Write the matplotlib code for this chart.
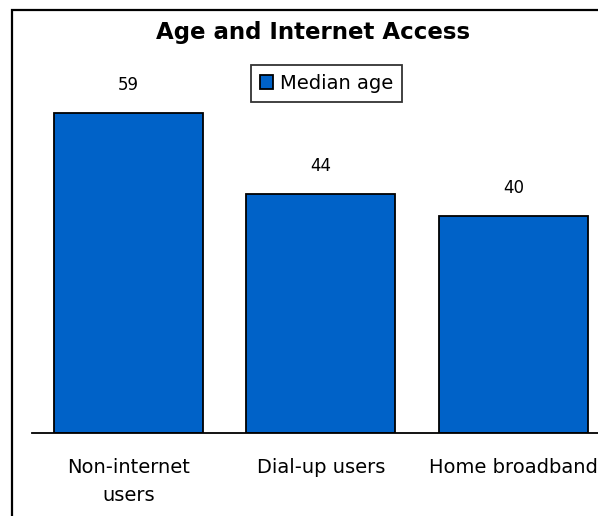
import matplotlib
matplotlib.use('Agg')
import matplotlib.pyplot as plt
from matplotlib.patches import Rectangle

plt.rcParams['font.family'] = ['DejaVu Sans']

# data
categories = ['Non-internet\nusers', 'Dial-up users', 'Home broadband']
median_age = [59, 44, 40]
series_name = 'Median age'
chart_title = 'Age and Internet Access'

BLUE = '#0062c8'

W, H = 598, 516
fig = plt.figure(figsize=(W / 100, H / 100), dpi=100)

# axes run off the right edge, like a cropped chart
unit_px = 192.5
ax = fig.add_axes([32 / W, (H - 433) / H, 3 * unit_px / W, 70 * 5.43 / H])
x = list(range(len(categories)))
bars = ax.bar(x, median_age, width=0.774, color=BLUE, edgecolor='black',
              linewidth=1.3, label=series_name, zorder=2)
ax.set_xlim(-0.5, 2.5)
ax.set_ylim(0, 70)

for b, v in zip(bars, median_age):
    ax.annotate(str(v), (b.get_x() + b.get_width() / 2, v),
                xytext=(0, 20), textcoords='offset points',
                ha='center', va='center', fontsize=12)

ax.set_xticks(x)
ax.set_xticklabels(categories, fontsize=14, linespacing=1.62)
ax.tick_params(axis='x', length=0, pad=18)
ax.set_yticks([])
for s in ['top', 'right', 'left']:
    ax.spines[s].set_visible(False)
ax.spines['bottom'].set_linewidth(1.3)

leg = ax.legend(loc='upper left', bbox_to_anchor=(251 / W, 1 - 65 / H),
                bbox_transform=fig.transFigure,
                fontsize=14, frameon=True, fancybox=False, handlelength=0.7,
                handleheight=0.7, handletextpad=0.35, borderpad=0.45,
                borderaxespad=0)
leg.get_frame().set_edgecolor('black')
leg.get_frame().set_linewidth(1.3)

fig.text(313 / W, 1 - 32 / H, chart_title, ha='center', va='center',
         fontsize=16.5, fontweight='bold')

# outer chart border, cut off on the right and bottom
fig.patches.append(Rectangle((11.5 / W, -0.1), 1.2, 1.1 - 9.5 / H,
                             transform=fig.transFigure, fill=False,
                             edgecolor='black', linewidth=1.6))

fig.savefig('out.png', dpi=100)
